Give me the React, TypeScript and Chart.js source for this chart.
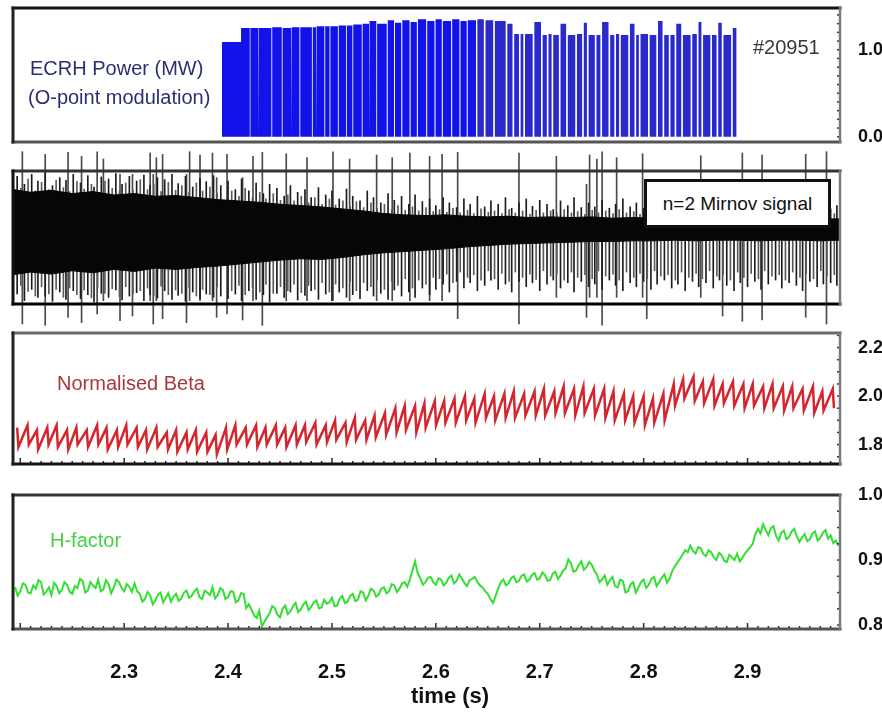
import React, { useEffect, useRef } from "react";
import { Chart, registerables } from "chart.js";

Chart.register(...registerables);
Chart.defaults.font.family = "'Liberation Sans', Arial, Helvetica, sans-serif";

const W = 882;
const H = 713;

// shared time axis (s)
const T_MIN = 2.193;
const T_MAX = 2.989;
const timeTicks = [2.3, 2.4, 2.5, 2.6, 2.7, 2.8, 2.9];

// y tick labels of the three labelled panels
const ecrhTicks = [0.0, 1.0];
const betaTicks = [1.8, 2.0, 2.2];
const hTicks = [0.8, 0.9, 1.0];

// ECRH gyrotron pulses: [switch-on (s), switch-off (s), power (MW)]
const ecrhEarlyPulses: [number, number, number][] = [
  [2.394, 2.4125, 1.09], [2.4125, 2.4209, 1.25], [2.4215, 2.4289, 1.25], [2.4297, 2.4417, 1.25],
  [2.4425, 2.4517, 1.26], [2.4525, 2.4607, 1.25], [2.4615, 2.4687, 1.26], [2.4695, 2.4807, 1.26],
  [2.4815, 2.4847, 1.26], [2.4855, 2.4927, 1.27], [2.4935, 2.4977, 1.27], [2.4985, 2.5057, 1.27],
  [2.5065, 2.5137, 1.28], [2.5145, 2.5197, 1.28], [2.5205, 2.5287, 1.29], [2.5295, 2.5357, 1.30],
  [2.5365, 2.5427, 1.33], [2.5435, 2.5527, 1.30], [2.5537, 2.5597, 1.34], [2.5607, 2.5667, 1.31],
  [2.5677, 2.5747, 1.34], [2.5757, 2.5817, 1.32], [2.5827, 2.5907, 1.35], [2.5917, 2.5987, 1.33],
  [2.5997, 2.6057, 1.35], [2.6067, 2.6147, 1.33], [2.6157, 2.6227, 1.35], [2.6237, 2.6297, 1.33],
  [2.6307, 2.6387, 1.34],
];
const ecrhLatePulses: [number, number, number][] = [
  [2.6398, 2.6462, 1.35], [2.6478, 2.6552, 1.34], [2.6568, 2.6672, 1.33], [2.6688, 2.6738, 1.30],
  [2.6754, 2.6800, 1.18], [2.6816, 2.6842, 1.18], [2.6858, 2.6932, 1.18], [2.6948, 2.7012, 1.32],
  [2.7028, 2.7068, 1.17], [2.7084, 2.7114, 1.18], [2.7130, 2.7184, 1.17], [2.7200, 2.7254, 1.30],
  [2.7270, 2.7342, 1.17], [2.7358, 2.7408, 1.18], [2.7424, 2.7454, 1.31], [2.7470, 2.7530, 1.17],
  [2.7546, 2.7584, 1.17], [2.7600, 2.7662, 1.32], [2.7678, 2.7718, 1.17], [2.7734, 2.7764, 1.18],
  [2.7780, 2.7852, 1.17], [2.7868, 2.7912, 1.30], [2.7928, 2.7954, 1.17], [2.7970, 2.8042, 1.18],
  [2.8058, 2.8122, 1.17], [2.8138, 2.8182, 1.33], [2.8198, 2.8242, 1.17], [2.8258, 2.8298, 1.17],
  [2.8314, 2.8362, 1.30], [2.8378, 2.8452, 1.17], [2.8468, 2.8512, 1.18], [2.8528, 2.8556, 1.32],
  [2.8572, 2.8642, 1.17], [2.8658, 2.8702, 1.17], [2.8718, 2.8752, 1.31], [2.8768, 2.8842, 1.17],
  [2.8858, 2.8895, 1.25],
];

// n=2 Mirnov coil: envelope of the dense oscillation (arb. units)
const mirnovEnvT = [
  2.193, 2.21, 2.23, 2.25, 2.27, 2.29, 2.31, 2.33, 2.35, 2.37, 2.39, 2.41, 2.43, 2.45, 2.47, 2.49,
  2.51, 2.53, 2.55, 2.57, 2.59, 2.61, 2.63, 2.65, 2.67, 2.69, 2.71, 2.73, 2.75, 2.77, 2.79, 2.81,
  2.83, 2.85, 2.87, 2.89, 2.91, 2.93, 2.95, 2.97, 2.989,
];
const mirnovUpper = [
  0.72, 0.68, 0.71, 0.66, 0.69, 0.64, 0.66, 0.62, 0.63, 0.60, 0.57, 0.55, 0.53, 0.50, 0.48, 0.46,
  0.43, 0.40, 0.36, 0.34, 0.33, 0.34, 0.32, 0.31, 0.32, 0.30, 0.31, 0.30, 0.31, 0.29, 0.30, 0.29,
  0.30, 0.28, 0.29, 0.28, 0.29, 0.28, 0.29, 0.28, 0.28,
];
const mirnovLower = [
  -0.56, -0.52, -0.55, -0.50, -0.53, -0.48, -0.51, -0.46, -0.48, -0.45, -0.43, -0.40, -0.37, -0.34, -0.32, -0.33,
  -0.30, -0.26, -0.23, -0.21, -0.19, -0.17, -0.14, -0.12, -0.10, -0.09, -0.08, -0.07, -0.06, -0.06, -0.05, -0.05,
  -0.04, -0.05, -0.04, -0.04, -0.05, -0.04, -0.04, -0.05, -0.04,
];

// strong Mirnov peaks: [time (s), max, min]
const mirnovPeaks: [number, number, number][] = [
  [2.197, 0.92, -0.85], [2.204, 0.80, -0.95], [2.211, 0.95, -0.78], [2.217, 0.85, -0.90],
  [2.224, 0.97, -0.88], [2.231, 0.78, -0.96], [2.238, 0.90, -0.82], [2.244, 0.86, -0.93],
  [2.251, 0.95, -0.80], [2.258, 0.82, -0.92], [2.265, 0.93, -0.86], [2.271, 0.76, -0.97],
  [2.278, 0.91, -0.84], [2.285, 0.88, -0.90], [2.292, 0.96, -0.79], [2.298, 0.80, -0.94],
  [2.305, 0.92, -0.88], [2.312, 0.85, -0.83], [2.319, 0.94, -0.95], [2.325, 0.79, -0.86],
  [2.332, 0.90, -0.91], [2.339, 0.87, -0.80], [2.346, 0.95, -0.93], [2.352, 0.81, -0.87],
  [2.359, 0.92, -0.96], [2.366, 0.76, -0.82], [2.373, 0.89, -0.92], [2.379, 0.84, -0.85],
  [2.386, 0.93, -0.90], [2.393, 0.78, -0.88], [2.400, 0.85, -0.92], [2.407, 0.72, -0.85],
  [2.413, 0.88, -0.95], [2.420, 0.70, -0.80], [2.427, 0.82, -0.93], [2.434, 0.66, -0.86],
  [2.440, 0.80, -0.97], [2.447, 0.74, -0.84], [2.454, 0.62, -0.90], [2.460, 0.78, -0.82],
  [2.467, 0.68, -0.94], [2.474, 0.72, -0.87], [2.480, 0.60, -0.80], [2.487, 0.75, -0.93],
  [2.494, 0.64, -0.85], [2.500, 0.70, -0.95], [2.507, 0.58, -0.82], [2.514, 0.73, -0.90],
  [2.520, 0.62, -0.86], [2.527, 0.55, -0.92], [2.534, 0.70, -0.80], [2.540, 0.60, -0.88],
  [2.547, 0.52, -0.84], [2.554, 0.66, -0.93], [2.560, 0.56, -0.79], [2.567, 0.62, -0.88],
  [2.574, 0.50, -0.82], [2.580, 0.64, -0.90], [2.587, 0.54, -0.76], [2.594, 0.58, -0.86],
  [2.600, 0.48, -0.78], [2.607, 0.60, -0.70], [2.613, 0.52, -0.82], [2.620, 0.45, -0.66],
  [2.627, 0.58, -0.76], [2.633, 0.50, -0.68], [2.640, 0.62, -0.80], [2.647, 0.46, -0.72],
  [2.653, 0.55, -0.64], [2.660, 0.50, -0.78], [2.667, 0.60, -0.70], [2.673, 0.44, -0.82],
  [2.680, 0.52, -0.66], [2.687, 0.58, -0.74], [2.693, 0.47, -0.68], [2.700, 0.56, -0.80],
  [2.707, 0.50, -0.70], [2.713, 0.42, -0.64], [2.720, 0.55, -0.76], [2.727, 0.48, -0.68],
  [2.733, 0.60, -0.82], [2.740, 0.45, -0.66], [2.747, 0.52, -0.74], [2.753, 0.46, -0.70],
  [2.760, 0.56, -0.78], [2.767, 0.44, -0.64], [2.773, 0.50, -0.72], [2.780, 0.58, -0.80],
  [2.787, 0.46, -0.68], [2.793, 0.52, -0.74], [2.800, 0.44, -0.66], [2.807, 0.55, -0.78],
  [2.813, 0.48, -0.70], [2.820, 0.42, -0.64], [2.827, 0.54, -0.76], [2.833, 0.47, -0.70],
  [2.840, 0.58, -0.80], [2.847, 0.45, -0.66], [2.853, 0.50, -0.74], [2.860, 0.43, -0.68],
  [2.867, 0.55, -0.76], [2.873, 0.48, -0.64], [2.880, 0.52, -0.72], [2.887, 0.44, -0.80],
  [2.893, 0.56, -0.68], [2.900, 0.47, -0.74], [2.907, 0.42, -0.66], [2.913, 0.53, -0.78],
  [2.920, 0.46, -0.70], [2.927, 0.50, -0.64], [2.933, 0.44, -0.76], [2.940, 0.55, -0.68],
  [2.947, 0.47, -0.72], [2.953, 0.42, -0.80], [2.960, 0.52, -0.66], [2.967, 0.45, -0.74],
  [2.973, 0.50, -0.70], [2.980, 0.43, -0.68], [2.986, 0.48, -0.72],
];

// weaker Mirnov peaks in between: [time (s), max, min]
const mirnovMinorPeaks: [number, number, number][] = [
  [2.2005, 0.74, -0.72], [2.2075, 0.88, -0.81], [2.2145, 0.70, -0.88], [2.2205, 0.83, -0.74],
  [2.2275, 0.72, -0.85], [2.2345, 0.86, -0.78], [2.2415, 0.75, -0.90], [2.2475, 0.69, -0.76],
  [2.2545, 0.84, -0.86], [2.2615, 0.73, -0.79], [2.2685, 0.80, -0.91], [2.2745, 0.68, -0.75],
  [2.2815, 0.85, -0.84], [2.2885, 0.74, -0.77], [2.2955, 0.70, -0.89], [2.3015, 0.82, -0.74],
  [2.3085, 0.71, -0.85], [2.3155, 0.87, -0.80], [2.3225, 0.72, -0.76], [2.3285, 0.80, -0.88],
  [2.3355, 0.69, -0.73], [2.3425, 0.83, -0.86], [2.3495, 0.71, -0.79], [2.3555, 0.78, -0.84],
  [2.3625, 0.68, -0.75], [2.3695, 0.82, -0.88], [2.3755, 0.70, -0.78], [2.3825, 0.76, -0.86],
  [2.3895, 0.66, -0.74], [2.4035, 0.70, -0.80], [2.4105, 0.62, -0.72], [2.4165, 0.74, -0.86],
  [2.4235, 0.60, -0.75], [2.4305, 0.68, -0.82], [2.4365, 0.58, -0.70], [2.4435, 0.66, -0.84],
  [2.4505, 0.56, -0.74], [2.4575, 0.64, -0.80], [2.4635, 0.55, -0.70], [2.4705, 0.62, -0.83],
  [2.4775, 0.52, -0.72], [2.4835, 0.60, -0.78], [2.4905, 0.50, -0.68], [2.4975, 0.58, -0.82],
  [2.5035, 0.49, -0.70], [2.5105, 0.55, -0.76], [2.5175, 0.47, -0.66], [2.5235, 0.54, -0.80],
  [2.5305, 0.45, -0.68], [2.5375, 0.52, -0.74], [2.5435, 0.44, -0.64], [2.5505, 0.50, -0.78],
  [2.5575, 0.42, -0.66], [2.5635, 0.48, -0.72], [2.5705, 0.41, -0.62], [2.5775, 0.46, -0.76],
  [2.5835, 0.40, -0.64], [2.5905, 0.45, -0.70], [2.5975, 0.39, -0.60], [2.6035, 0.42, -0.62],
  [2.6105, 0.38, -0.55], [2.6165, 0.44, -0.68], [2.6235, 0.37, -0.52], [2.6305, 0.41, -0.60],
  [2.6365, 0.36, -0.56], [2.6435, 0.43, -0.64], [2.6505, 0.38, -0.50], [2.6565, 0.40, -0.62],
  [2.6635, 0.36, -0.54], [2.6705, 0.42, -0.66], [2.6765, 0.37, -0.52], [2.6835, 0.40, -0.60],
  [2.6905, 0.35, -0.55], [2.6965, 0.41, -0.63], [2.7035, 0.37, -0.50], [2.7105, 0.40, -0.58],
  [2.7165, 0.36, -0.54], [2.7235, 0.42, -0.64], [2.7305, 0.37, -0.52], [2.7365, 0.39, -0.60],
  [2.7435, 0.35, -0.56], [2.7505, 0.41, -0.62], [2.7565, 0.37, -0.50], [2.7635, 0.40, -0.58],
  [2.7705, 0.36, -0.55], [2.7765, 0.42, -0.64], [2.7835, 0.37, -0.52], [2.7905, 0.39, -0.60],
  [2.7965, 0.35, -0.54], [2.8035, 0.41, -0.62], [2.8105, 0.37, -0.50], [2.8165, 0.40, -0.58],
  [2.8235, 0.36, -0.56], [2.8305, 0.42, -0.64], [2.8365, 0.37, -0.52], [2.8435, 0.39, -0.60],
  [2.8505, 0.35, -0.54], [2.8565, 0.41, -0.62], [2.8635, 0.37, -0.50], [2.8705, 0.40, -0.58],
  [2.8765, 0.36, -0.56], [2.8835, 0.42, -0.64], [2.8905, 0.37, -0.52], [2.8965, 0.39, -0.60],
  [2.9035, 0.35, -0.54], [2.9105, 0.41, -0.62], [2.9165, 0.37, -0.50], [2.9235, 0.40, -0.58],
  [2.9305, 0.36, -0.56], [2.9365, 0.42, -0.64], [2.9435, 0.37, -0.52], [2.9505, 0.39, -0.60],
  [2.9565, 0.35, -0.54], [2.9635, 0.41, -0.62], [2.9705, 0.37, -0.50], [2.9765, 0.40, -0.58],
  [2.9835, 0.36, -0.56],
];

// large Mirnov bursts that overrun the plotted range: [time (s), max, min]
const mirnovBursts: [number, number, number][] = [
  [2.202, 1.29, -1.30], [2.224, 1.25, -1.32], [2.246, 1.28, -1.20], [2.259, 1.22, -1.28],
  [2.274, 1.29, -1.15], [2.280, 1.18, -0.95], [2.296, 0.95, -1.25], [2.308, 0.95, -1.18],
  [2.325, 1.27, -0.95], [2.328, 0.95, -1.30], [2.331, 1.20, -0.95], [2.337, 1.25, -1.22],
  [2.360, 0.95, -1.28], [2.363, 1.29, -0.95], [2.373, 1.24, -0.95], [2.385, 1.27, -0.95],
  [2.389, 0.90, -1.20], [2.399, 1.25, -1.15], [2.414, 0.90, -1.24], [2.424, 1.22, -0.95],
  [2.433, 1.28, -1.32], [2.456, 1.26, -0.95], [2.476, 1.20, -0.95], [2.501, 1.29, -0.95],
  [2.517, 1.18, -0.95], [2.543, 1.24, -0.95], [2.558, 1.20, -0.95], [2.575, 1.27, -0.95],
  [2.594, 1.22, -0.95], [2.606, 1.25, -0.95], [2.621, 1.28, -1.22], [2.680, 1.27, -1.30],
  [2.716, 1.22, -0.90], [2.745, 0.80, -1.20], [2.748, 1.24, -0.90], [2.755, 1.18, -0.90],
  [2.760, 1.29, -1.32], [2.774, 1.20, -0.90], [2.799, 1.26, -0.90], [2.803, 0.80, -1.22],
  [2.855, 1.23, -0.90], [2.876, 0.80, -1.18], [2.895, 1.27, -1.26], [2.914, 1.24, -1.24],
  [2.956, 1.25, -1.20], [2.976, 1.29, -1.30],
];

// normalised beta sawteeth: [crash time (s), value before crash, value after crash]
const betaTeeth: [number, number, number][] = [
  [2.197, 1.87, 1.79], [2.207, 1.88, 1.80], [2.216, 1.86, 1.78], [2.226, 1.87, 1.80],
  [2.235, 1.88, 1.79], [2.245, 1.86, 1.78], [2.254, 1.87, 1.80], [2.264, 1.86, 1.79],
  [2.274, 1.88, 1.80], [2.283, 1.87, 1.78], [2.293, 1.86, 1.79], [2.302, 1.88, 1.80],
  [2.312, 1.87, 1.79], [2.321, 1.86, 1.78], [2.331, 1.87, 1.79], [2.341, 1.85, 1.78],
  [2.350, 1.86, 1.77], [2.360, 1.85, 1.78], [2.369, 1.86, 1.77], [2.379, 1.85, 1.77],
  [2.388, 1.84, 1.76], [2.398, 1.87, 1.78], [2.407, 1.88, 1.80], [2.417, 1.87, 1.80],
  [2.427, 1.88, 1.79], [2.436, 1.87, 1.80], [2.446, 1.88, 1.80], [2.455, 1.87, 1.79],
  [2.465, 1.88, 1.80], [2.474, 1.88, 1.81], [2.484, 1.89, 1.80], [2.494, 1.88, 1.81],
  [2.503, 1.90, 1.82], [2.513, 1.89, 1.81], [2.522, 1.91, 1.82], [2.532, 1.90, 1.82],
  [2.541, 1.92, 1.83], [2.551, 1.93, 1.84], [2.561, 1.95, 1.85], [2.570, 1.96, 1.86],
  [2.580, 1.96, 1.85], [2.589, 1.97, 1.87], [2.599, 1.98, 1.88], [2.608, 1.98, 1.89],
  [2.618, 1.99, 1.89], [2.628, 2.00, 1.90], [2.637, 1.99, 1.89], [2.647, 2.01, 1.91],
  [2.656, 2.00, 1.90], [2.666, 2.01, 1.91], [2.675, 2.02, 1.91], [2.685, 2.01, 1.92],
  [2.695, 2.02, 1.92], [2.704, 2.03, 1.92], [2.714, 2.02, 1.93], [2.723, 2.04, 1.93],
  [2.733, 2.03, 1.92], [2.742, 2.04, 1.93], [2.752, 2.03, 1.92], [2.762, 2.03, 1.91],
  [2.771, 2.02, 1.90], [2.781, 2.01, 1.90], [2.790, 2.00, 1.89], [2.800, 2.00, 1.88],
  [2.809, 1.99, 1.89], [2.819, 2.01, 1.90], [2.829, 2.05, 1.96], [2.838, 2.07, 1.99],
  [2.848, 2.08, 1.98], [2.857, 2.06, 1.97], [2.867, 2.07, 1.96], [2.876, 2.05, 1.97],
  [2.886, 2.06, 1.96], [2.896, 2.05, 1.95], [2.905, 2.05, 1.96], [2.915, 2.04, 1.95],
  [2.924, 2.05, 1.95], [2.934, 2.04, 1.94], [2.943, 2.04, 1.95], [2.953, 2.03, 1.94],
  [2.963, 2.04, 1.93], [2.972, 2.02, 1.94], [2.982, 2.03, 1.95],
];
const BETA_CRASH = 0.0012; // duration of a sawtooth crash (s)

// confinement H-factor, sampled every 2.5 ms from 2.195 s
// (hFactor on the 5 ms grid, hFactorMid half a step later)
const hStart = 2.195;
const hStep = 0.005;
const hFactor = [
  0.858, 0.852, 0.862, 0.849, 0.856, 0.866, 0.851, 0.846, 0.860, 0.854,
  0.862, 0.848, 0.857, 0.868, 0.853, 0.861, 0.870, 0.855, 0.863, 0.858,
  0.866, 0.852, 0.859, 0.864, 0.848, 0.840, 0.846, 0.838, 0.850, 0.842,
  0.836, 0.848, 0.841, 0.853, 0.845, 0.856, 0.840, 0.850, 0.858, 0.846,
  0.854, 0.843, 0.851, 0.838, 0.848, 0.832, 0.815, 0.822, 0.805, 0.818,
  0.826, 0.812, 0.830, 0.821, 0.834, 0.824, 0.836, 0.828, 0.838, 0.827,
  0.833, 0.842, 0.830, 0.845, 0.836, 0.848, 0.839, 0.850, 0.845, 0.853,
  0.847, 0.858, 0.852, 0.861, 0.856, 0.866, 0.870, 0.898, 0.872, 0.866,
  0.874, 0.862, 0.870, 0.865, 0.876, 0.868, 0.872, 0.860, 0.871, 0.866,
  0.858, 0.848, 0.834, 0.856, 0.870, 0.864, 0.875, 0.868, 0.878, 0.870,
  0.880, 0.872, 0.877, 0.869, 0.882, 0.876, 0.887, 0.895, 0.884, 0.898,
  0.889, 0.893, 0.878, 0.870, 0.862, 0.874, 0.858, 0.868, 0.852, 0.866,
  0.858, 0.870, 0.862, 0.874, 0.866, 0.878, 0.872, 0.890, 0.902, 0.915,
  0.922, 0.910, 0.918, 0.906, 0.912, 0.900, 0.908, 0.897, 0.904, 0.910,
  0.903, 0.915, 0.925, 0.948, 0.955, 0.938, 0.952, 0.930, 0.945, 0.936,
  0.948, 0.928, 0.940, 0.932, 0.944, 0.934, 0.946, 0.938, 0.930,
];
const hFactorMid = [
  0.845, 0.864, 0.850, 0.861, 0.869, 0.847, 0.858, 0.865, 0.849, 0.866,
  0.851, 0.860, 0.871, 0.850, 0.866, 0.857, 0.852, 0.869, 0.849, 0.870,
  0.857, 0.863, 0.851, 0.852, 0.836, 0.851, 0.832, 0.847, 0.835, 0.849,
  0.844, 0.837, 0.850, 0.842, 0.852, 0.843, 0.853, 0.846, 0.841, 0.857,
  0.840, 0.852, 0.835, 0.849, 0.826, 0.824, 0.811, 0.798, 0.812, 0.829,
  0.816, 0.825, 0.817, 0.829, 0.820, 0.832, 0.823, 0.835, 0.826, 0.839,
  0.835, 0.829, 0.841, 0.834, 0.845, 0.837, 0.852, 0.838, 0.856, 0.844,
  0.856, 0.849, 0.863, 0.851, 0.864, 0.859, 0.884, 0.880, 0.862, 0.873,
  0.866, 0.872, 0.861, 0.873, 0.864, 0.878, 0.865, 0.869, 0.874, 0.861,
  0.852, 0.840, 0.845, 0.866, 0.861, 0.872, 0.866, 0.876, 0.867, 0.877,
  0.870, 0.881, 0.868, 0.879, 0.871, 0.884, 0.901, 0.882, 0.892, 0.885,
  0.897, 0.884, 0.866, 0.876, 0.869, 0.860, 0.870, 0.850, 0.863, 0.850,
  0.866, 0.857, 0.871, 0.860, 0.873, 0.865, 0.883, 0.896, 0.908, 0.912,
  0.914, 0.920, 0.909, 0.915, 0.904, 0.911, 0.899, 0.908, 0.900, 0.898,
  0.910, 0.920, 0.940, 0.941, 0.946, 0.949, 0.937, 0.942, 0.932, 0.944,
  0.936, 0.935, 0.929, 0.941, 0.930, 0.942, 0.933, 0.926, 0.922,
];

// ---- dataset builders ----
const pulsePoints = (list: [number, number, number][]) =>
  list.flatMap(([on, off, mw]) => [
    { x: on, y: 0 },
    { x: on, y: mw },
    { x: off, y: mw },
    { x: off, y: 0 },
  ]);

const envelope = (vals: number[]) => mirnovEnvT.map((t, i) => ({ x: t, y: vals[i] }));
const peaks = (list: [number, number, number][]) => list.map(([t, hi, lo]) => ({ x: t, y: [lo, hi] }));
const hPoints = hFactor.flatMap((v, i) => {
  const pts = [{ x: hStart + i * hStep, y: v }];
  if (i < hFactorMid.length) pts.push({ x: hStart + (i + 0.5) * hStep, y: hFactorMid[i] });
  return pts;
});

// frame and inward minor ticks around each panel
const panelFrame = {
  id: "panelFrame",
  afterDatasetsDraw(chart: any, _args: any, opts: any) {
    const { ctx, chartArea: a } = chart;
    const seg = (x1: number, y1: number, x2: number, y2: number, c: string, w: number) => {
      ctx.strokeStyle = c;
      ctx.lineWidth = w;
      ctx.beginPath();
      ctx.moveTo(x1, y1);
      ctx.lineTo(x2, y2);
      ctx.stroke();
    };
    ctx.save();
    if (opts.xMinor) {
      const xs = chart.scales.x;
      for (let k = 220; k <= 298; k++) {
        const px = xs.getPixelForValue(k / 100);
        seg(px, a.bottom, px, a.bottom - (k % 10 === 0 ? 6 : 3), "#2a2a2a", 1.5);
      }
    }
    if (opts.yMinorStep) {
      const ys = chart.scales.y;
      const step = opts.yMinorStep;
      for (let i = Math.ceil(ys.min / step); i * step <= ys.max; i++) {
        const py = ys.getPixelForValue(i * step);
        seg(a.right, py, a.right - 3, py, "#333", 1.5);
      }
    }
    ctx.lineCap = "square";
    seg(a.left, a.top, a.right, a.top, opts.top, 3);
    seg(a.left, a.bottom, a.right, a.bottom, opts.bottom, 3);
    seg(a.left, a.top, a.left, a.bottom, opts.left, 3);
    seg(a.right, a.top, a.right, a.bottom, opts.right, 2.5);
    ctx.restore();
  },
};

type Panel = {
  top: number;
  bottom: number;
  yMin: number;
  yMax: number;
  yTicks: number[] | null;
  showX: boolean;
  datasets: any[];
  frame: { top: string; left: string; bottom: string; right: string };
  xMinor: boolean;
  yMinorStep: number;
};

function buildConfig(p: Panel) {
  const xAxisH = p.showX ? H - p.bottom : 0;
  return {
    type: "line",
    data: { datasets: p.datasets },
    plugins: [panelFrame],
    options: {
      animation: false,
      responsive: false,
      maintainAspectRatio: false,
      devicePixelRatio: 1,
      events: [],
      layout: { padding: { left: 13, right: 0, top: p.top, bottom: H - p.bottom - xAxisH } },
      elements: { point: { radius: 0 }, line: { tension: 0 } },
      plugins: {
        legend: { display: false },
        tooltip: { enabled: false },
        panelFrame: { ...p.frame, xMinor: p.xMinor, yMinorStep: p.yMinorStep },
      },
      scales: {
        x: {
          type: "linear",
          min: T_MIN,
          max: T_MAX,
          offset: false,
          display: p.showX,
          afterBuildTicks: (s: any) => {
            s.ticks = timeTicks.map((value) => ({ value }));
          },
          afterFit: (s: any) => {
            if (p.showX) s.height = xAxisH;
            s.paddingLeft = 0;
            s.paddingRight = 0;
          },
          grid: { display: false },
          border: { display: false },
          ticks: {
            padding: 23,
            color: "#111",
            maxRotation: 0,
            autoSkip: false,
            font: { size: 20, weight: "bold" },
            callback: (v: any) => Number(v).toFixed(1),
          },
        },
        y: {
          type: "linear",
          position: "right",
          min: p.yMin,
          max: p.yMax,
          afterBuildTicks: (s: any) => {
            s.ticks = (p.yTicks || []).map((value) => ({ value }));
          },
          afterFit: (s: any) => {
            s.width = 42;
            s.paddingTop = 0;
            s.paddingBottom = 0;
          },
          grid: { display: false },
          border: { display: false },
          ticks: {
            display: !!p.yTicks,
            padding: 10,
            color: "#111",
            font: { size: 18, weight: "bold" },
            callback: (v: any) => Number(v).toFixed(1),
          },
        },
      },
    },
  };
}

const panels: Panel[] = [
  {
    top: 8, bottom: 142, yMin: -0.06, yMax: 1.48, yTicks: ecrhTicks, showX: false,
    xMinor: false, yMinorStep: 0.1,
    frame: { top: "#111", left: "#222", bottom: "#555", right: "#7a7a7a" },
    datasets: [
      { data: pulsePoints(ecrhEarlyPulses), fill: "origin", backgroundColor: "#1212ea", borderWidth: 0 },
      { data: pulsePoints(ecrhLatePulses), fill: "origin", backgroundColor: "#2a2acc", borderWidth: 0 },
    ],
  },
  {
    top: 171, bottom: 304, yMin: -1, yMax: 1, yTicks: null, showX: false,
    xMinor: false, yMinorStep: 0,
    frame: { top: "#333", left: "#111", bottom: "#000", right: "#7a7a7a" },
    datasets: [
      { data: envelope(mirnovUpper), borderColor: "#000", borderWidth: 1, fill: "+1", backgroundColor: "#060606" },
      { data: envelope(mirnovLower), borderColor: "#000", borderWidth: 1, fill: false },
      {
        type: "bar", data: peaks(mirnovMinorPeaks), backgroundColor: "#5a5a5a",
        barThickness: 1, borderWidth: 0, grouped: false, clip: false,
      },
      {
        type: "bar", data: peaks(mirnovPeaks), backgroundColor: "#1c1c1c",
        barThickness: 1, borderWidth: 0, grouped: false, clip: false,
      },
      {
        type: "bar", data: peaks(mirnovBursts), backgroundColor: "#4a4a4a",
        barThickness: 1, borderWidth: 0, grouped: false, clip: false,
      },
    ],
  },
  {
    top: 333, bottom: 464, yMin: 1.72, yMax: 2.26, yTicks: betaTicks, showX: false,
    xMinor: true, yMinorStep: 0.05,
    frame: { top: "#6a6a6a", left: "#222", bottom: "#111", right: "#7a7a7a" },
    datasets: [
      {
        data: betaTeeth.flatMap(([t, pk, tr]) => [{ x: t, y: pk }, { x: t + BETA_CRASH, y: tr }]),
        borderColor: "#d4262d", borderWidth: 2.5, fill: false,
      },
    ],
  },
  {
    top: 495, bottom: 629, yMin: 0.794, yMax: 1.0, yTicks: hTicks, showX: true,
    xMinor: true, yMinorStep: 0.025,
    frame: { top: "#333", left: "#222", bottom: "#555", right: "#7a7a7a" },
    datasets: [
      { data: hPoints, borderColor: "#33df33", borderWidth: 2, fill: false },
    ],
  },
];

function PanelChart({ panel }: { panel: Panel }) {
  const ref = useRef<HTMLCanvasElement>(null);
  useEffect(() => {
    if (!ref.current) return;
    const chart = new Chart(ref.current, buildConfig(panel) as any);
    return () => chart.destroy();
  }, [panel]);
  return (
    <canvas
      ref={ref}
      width={W}
      height={H}
      style={{ position: "absolute", left: 0, top: 0, width: W, height: H }}
    />
  );
}

const label = (left: number, top: number, size: number, color: string, extra: any = {}) => ({
  position: "absolute" as const,
  left,
  top,
  fontSize: size,
  lineHeight: `${size}px`,
  color,
  whiteSpace: "nowrap" as const,
  fontFamily: "'Liberation Sans', Arial, Helvetica, sans-serif",
  ...extra,
});

export default function App() {
  return (
    <div style={{ position: "absolute", left: 0, top: 0, width: W, height: H, background: "#fff", overflow: "hidden" }}>
      {panels.map((p, i) => (
        <PanelChart key={i} panel={p} />
      ))}
      <div style={label(30, 58, 20, "#2b2f72")}>ECRH Power (MW)</div>
      <div style={label(28, 87, 20, "#2b2f72")}>(O-point modulation)</div>
      <div style={label(753, 37, 20, "#3a3a3a")}>#20951</div>
      <div
        style={label(644, 179, 19, "#111", {
          width: 187,
          height: 49,
          boxSizing: "border-box",
          border: "3px solid #111",
          background: "#fff",
          display: "flex",
          alignItems: "center",
          justifyContent: "center",
        })}
      >
        n=2 Mirnov signal
      </div>
      <div style={label(57, 373, 20, "#a8383a")}>Normalised Beta</div>
      <div style={label(50, 530, 20, "#45d045")}>H-factor</div>
      <div style={label(450, 685, 22, "#111", { fontWeight: "bold", transform: "translateX(-50%)" })}>time (s)</div>
    </div>
  );
}
